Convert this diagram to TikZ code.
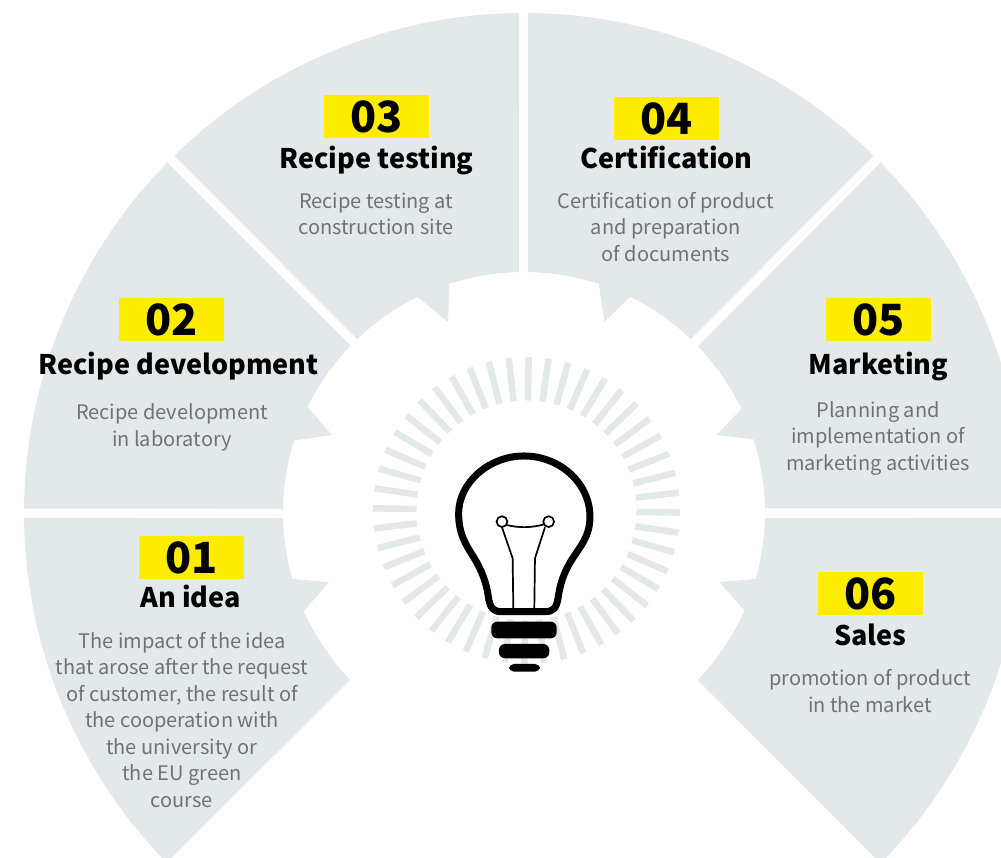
\documentclass[tikz,border=0pt]{standalone}
\usepackage{fontspec}
\setmainfont{Noto Sans CJK SC}
\definecolor{sectorgray}{HTML}{E3E8EA}
\definecolor{numyellow}{HTML}{FFED00}
\definecolor{bodygray}{HTML}{707374}
\tikzset{
  sector/.style = {fill=sectorgray},
  numbox/.style = {fill=numyellow, inner sep=0pt, text centered, font=\fontsize{43}{43}\bfseries,
    minimum width=105pt, minimum height=43pt},
  steptitle/.style = {black, inner sep=0pt, anchor=base, font=\fontsize{27}{30}\bfseries},
  stepbody/.style = {bodygray, inner sep=0pt, align=center, font=\fontsize{20}{26.5}\selectfont},
  ray/.style = {sectorgray, line width=6.5pt},
  bulbline/.style = {black, line width=7pt}
}
\begin{document}
\begin{tikzpicture}[x=1pt,y=1pt]
  \useasboundingbox (-524,-345) rectangle (477,513);
  \clip (-524,-345) rectangle (477,513);
  % the six sectors, anticlockwise from the lower left
  \fill[sector] (180.57:500) arc[start angle=180.57, end angle=224.4, radius=500]
    -- (223.8:241) arc[start angle=223.8, end angle=204, radius=241]
    -- (-195,-69) -- (195.9:241) arc[start angle=195.9, end angle=181.2, radius=241] -- cycle;
  \fill[sector] (179.5:500) arc[start angle=179.5, end angle=135.5, radius=500]
    -- (136:241) arc[start angle=136, end angle=153.9, radius=241]
    -- (-192,78) -- (162.5:241) arc[start angle=162.5, end angle=179, radius=241] -- cycle;
  \fill[sector] (134.4:500) arc[start angle=134.4, end angle=90.57, radius=500]
    -- (91.2:241) arc[start angle=91.2, end angle=108.06, radius=241]
    -- (-76,191) -- (116.24:241) arc[start angle=116.24, end angle=133.8, radius=241] -- cycle;
  \fill[sector] (89.54:500) arc[start angle=89.54, end angle=45.6, radius=500]
    -- (46.2:241) arc[start angle=46.2, end angle=63.8, radius=241]
    -- (80.3,191.3) -- (71.9:241) arc[start angle=71.9, end angle=89, radius=241] -- cycle;
  \fill[sector] (44.5:500) arc[start angle=44.5, end angle=0.54, radius=500]
    -- (1.1:241) arc[start angle=1.1, end angle=17.8, radius=241]
    -- (192.7,78) -- (25.6:241) arc[start angle=25.6, end angle=43.8, radius=241] -- cycle;
  \fill[sector] (-0.57:500) arc[start angle=-0.57, end angle=-44.5, radius=500]
    -- (-43.9:241) arc[start angle=-43.9, end angle=-23.9, radius=241]
    -- (195.5,-69) -- (-15.9:241) arc[start angle=-15.9, end angle=-1.2, radius=241] -- cycle;
  % rays
  \foreach \k in {0,...,47}
    \draw[ray] ([shift={(2.5,2.5)}]-0.8+7.5*\k:110) -- ([shift={(2.5,2.5)}]-0.8+7.5*\k:153.5);
  % lamp
  \begin{scope}[shift={(-174,173)},x=0.3333pt,y=-0.3333pt]
    \draw[bulbline, fill=white] (522,348)
      .. controls (630,348) and (720,430) .. (720,530)
      .. controls (720,590) and (690,620) .. (665,660)
      .. controls (640,700) and (630,735) .. (625,770)
      .. controls (620,805) and (610,815) .. (585,815)
      -- (455,815)
      .. controls (430,815) and (420,805) .. (415,770)
      .. controls (410,730) and (395,690) .. (370,650)
      .. controls (345,610) and (326,580) .. (326,520)
      .. controls (326,430) and (415,348) .. (522,348) -- cycle;
    \draw[black, line width=1.7pt] (456,562) -- (488,655) -- (490,805);
    \draw[black, line width=1.7pt] (585,562) -- (555,655) -- (553,805);
    \draw[black, line width=1.7pt] (470,555) .. controls (505,564) and (545,564) .. (582,553);
    \draw[black, line width=1.7pt, fill=white] (456,545) circle[radius=5.4pt];
    \draw[black, line width=1.7pt, fill=white] (596,545) circle[radius=5.4pt];
    \fill[black, rounded corners=6pt] (424,845) rectangle (620,895);
    \fill[black, rounded corners=6pt] (447,912) rectangle (598,955);
    \fill[black, rounded corners=5pt] (477,972) -- (570,972) -- (570,995) -- (477,995) -- cycle;
  \end{scope}
  % labels
  \node[numbox] (num01) at (-332.5,-44.5) {01};
  \node[steptitle] (title01) at ([xshift=-1pt,yshift=-28pt]num01.south) {An idea};
  \node[stepbody] (body01) at (-342,-207) {The impact of the idea\\that arose after the request\\of customer, the result of\\the cooperation with\\the university or\\the EU green\\course};
  \node[numbox] (num02) at (-352.5,193.5) {02};
  \node[steptitle] (title02) at ([xshift=7pt,yshift=-33pt]num02.south) {Recipe development};
  \node[stepbody] (body02) at (-352,85.5) {Recipe development\\in laboratory};
  \node[numbox] (num03) at (-147.5,396.5) {03};
  \node[steptitle] (title03) at ([yshift=-30pt]num03.south) {Recipe testing};
  \node[stepbody] (body03) at (-148,299) {Recipe testing at\\construction site};
  \node[numbox] (num04) at (142.5,394.5) {04};
  \node[steptitle] (title04) at ([yshift=-28pt]num04.south) {Certification};
  \node[stepbody] (body04) at (142,286) {Certification of product\\and preparation\\of documents};
  \node[numbox] (num05) at (354.5,193.5) {05};
  \node[steptitle] (title05) at ([yshift=-33pt]num05.south) {Marketing};
  \node[stepbody] (body05) at (354,74.5) {Planning and\\implementation of\\marketing activities};
  \node[numbox] (num06) at (346.5,-80.5) {06};
  \node[steptitle] (title06) at ([yshift=-30pt]num06.south) {Sales};
  \node[stepbody] (body06) at (346,-178) {promotion of product\\in the market};
\end{tikzpicture}
\end{document}
